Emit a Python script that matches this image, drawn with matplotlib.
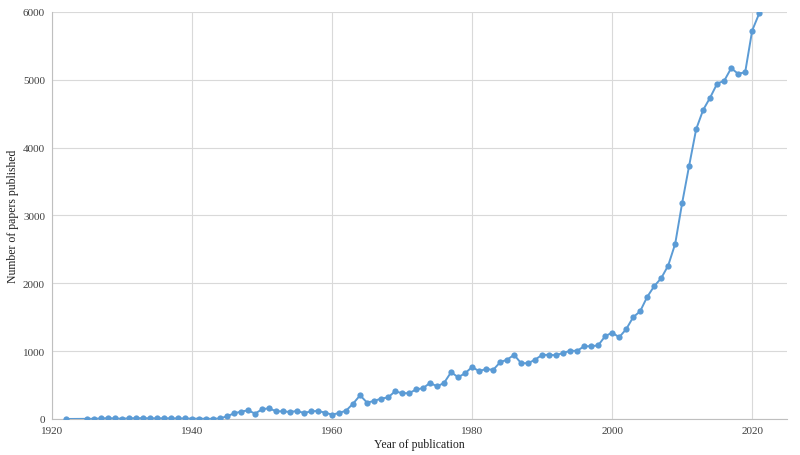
import numpy as np
import matplotlib
matplotlib.use("Agg")
import matplotlib.pyplot as plt

# papers per year
years = [1922] + list(range(1925, 2022))
papers = [
    0,                                                      # 1922
    2, 3, 8, 12, 8, 4, 10, 12, 12, 10, 10, 10, 10, 8, 8,     # 1925-1939
    5, 5, 3, 3, 8, 40, 83, 108, 128, 79,                    # 1940-1949
    143, 158, 113, 113, 103, 118, 88, 113, 118, 93,         # 1950-1959
    64, 88, 123, 226, 349, 241, 266, 300, 318, 408,         # 1960-1969
    380, 380, 435, 455, 533, 479, 533, 690, 615, 674,       # 1970-1979
    767, 704, 738, 723, 836, 875, 945, 822, 822, 875,       # 1980-1989
    945, 945, 940, 974, 1005, 1005, 1072, 1072, 1085, 1220, # 1990-1999
    1273, 1205, 1323, 1500, 1588, 1799, 1957, 2075, 2261, 2581,  # 2000-2009
    3186, 3736, 4273, 4557, 4739, 4945, 4985, 5172, 5088, 5113,  # 2010-2019
    5727, 5978,                                             # 2020-2021
]

x_ticks = [1920, 1940, 1960, 1980, 2000, 2020]
y_ticks = [0, 1000, 2000, 3000, 4000, 5000, 6000]

plt.rcParams["font.family"] = ["Liberation Serif", "DejaVu Serif"]

fig = plt.figure(figsize=(8, 4.56), dpi=100)
ax = fig.add_axes([0.065, 0.079, 0.919, 0.8925])

ax.plot(years, papers, color="#5B9BD5", linewidth=1.4, marker="o",
        markersize=4.5, markeredgewidth=0, zorder=3)

ax.set_xlim(1920, 2025)
ax.set_ylim(0, 6000)
ax.set_xticks(x_ticks)
ax.set_yticks(y_ticks)
ax.tick_params(length=0, labelsize=8, colors="#404040", pad=5)
ax.grid(True, color="#d9d9d9", linewidth=0.8)
ax.set_axisbelow(True)

for s in ["top", "right"]:
    ax.spines[s].set_visible(False)
for s in ["left", "bottom"]:
    ax.spines[s].set_color("#bfbfbf")
    ax.spines[s].set_linewidth(0.8)

ax.set_xlabel("Year of publication", fontsize=8.5, color="#202020", labelpad=2)
ax.set_ylabel("Number of papers published", fontsize=8.5, color="#202020", labelpad=3)

fig.savefig("out.png", dpi=100)
